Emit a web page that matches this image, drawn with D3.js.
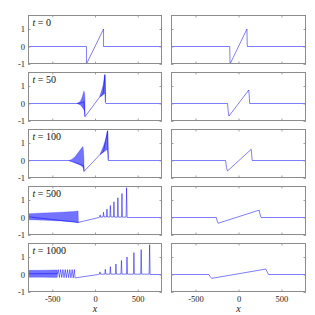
<!DOCTYPE html>
<html><head><meta charset="utf-8">
<script src="https://cdn.jsdelivr.net/npm/d3@7"></script>
<style>body{margin:0;background:#fff}svg{display:block}</style>
</head><body>
<svg id="c" width="315" height="315"></svg>
<script>
// ---------- data ----------
const times = [0, 50, 100, 500, 1000];
const xTicks = [-500, 0, 500];
const yTicks = [-1, 0, 1];
const xDomain = [-785, 785];
const yDomain = [-1, 1.8];

// left column (dispersive) : lines
const kdv0Line = [[-785,0],[-100,0],[-100,-1],[100,1],[100,0],[785,0]];
const kdv50Line = [[-785,0],[-215,0],[-170,0.02],[-130,0.1],[-118,-0.76],[60,0.4],[95,0.55],[116,1.65],[122,0.05],[128,0],[785,0]];
const kdv100Line = [[-785,0],[-310,0],[-132,-0.3],[-128,-0.62],[60,0.35],[100,0.5],[148,1.7],[152,0.6],[156,0],[785,0]];
const kdv500Line = [[-785,0.04],[-196,-0.28],[45,0.0],[55,0.02],[60,0.15],[66,0.02],[94,0.03],[100,0.3],[106,0.03],[134,0.03],[140,0.48],[146,0.03],[174,0.03],[180,0.68],[186,0.03],[216,0.03],[222,0.9],[228,0.02],[262,0.02],[268,1.13],[274,0.02],[310,0.02],[316,1.37],[322,0.02],[364,0.02],[370,1.7],[376,0],[785,0]];
const kdv1000Line = [[-785,0.04],[-440,0.05],[-430,0.28],[-417,-0.17],[-403,0.28],[-390,-0.17],[-376,0.28],[-363,-0.18],[-349,0.28],[-336,-0.18],[-322,0.28],[-309,-0.18],[-295,0.28],[-282,-0.19],[-268,0.28],[-255,-0.19],[-241,0.28],[-234,-0.19],[-228,-0.19],[40,0.0],[52,0.02],[58,0.15],[64,0.02],[115,0.02],[121,0.3],[127,0.02],[174,0.02],[180,0.45],[186,0.02],[239,0.02],[245,0.6],[251,0.02],[304,0.02],[310,0.8],[316,0.02],[369,0.02],[375,1.0],[381,0.02],[450,0.02],[456,1.25],[462,0.02],[535,0.02],[541,1.42],[547,0.02],[634,0.02],[640,1.7],[646,0],[785,0]];

// left column : dense oscillation bands [x, low, high]
const kdv50Band = [[-215,0,0],[-190,-0.04,0.06],[-170,-0.1,0.15],[-155,-0.18,0.3],[-140,-0.28,0.55],[-130,-0.35,0.72],[-122,-0.45,0.6],[-117,-0.72,0.2]];
const kdv50Spike = [[55,0.38,0.42],[75,0.42,0.7],[95,0.5,1.05],[108,0.55,1.45],[116,0.6,1.65],[121,0.4,1.3],[124,0.1,0.5]];
const kdv100Band = [[-310,0,0],[-280,-0.03,0.05],[-250,-0.08,0.15],[-220,-0.15,0.3],[-190,-0.22,0.5],[-160,-0.3,0.7],[-142,-0.38,0.8],[-134,-0.5,0.55],[-129,-0.62,0.05]];
const kdv100Spike = [[60,0.33,0.37],[80,0.42,0.6],[100,0.48,0.85],[120,0.55,1.15],[135,0.6,1.45],[146,0.62,1.7],[151,0.4,1.5],[155,0.05,0.4]];
const kdv500Band = [[-785,-0.13,0.22],[-600,-0.15,0.26],[-400,-0.2,0.3],[-250,-0.25,0.35],[-198,-0.3,0.37],[-194,-0.29,-0.27]];
const kdv1000Band = [[-785,-0.15,0.24],[-600,-0.16,0.25],[-445,-0.17,0.26],[-440,-0.1,0.1]];

// right column (dissipative) : lines
const burg0Line = [[-785,0],[-102,0],[-98,-1],[98,1],[102,0],[785,0]];
const burg50Line = [[-785,0],[-127,0],[-121,-0.4],[-111,-0.72],[119,0.77],[124,0.5],[130,0],[785,0]];
const burg100Line = [[-785,0],[-150,0],[-140,-0.4],[-128,-0.6],[148,0.64],[153,0.35],[159,0],[785,0]];
const burg500Line = [[-785,0],[-258,0],[-248,-0.2],[-238,-0.33],[240,0.42],[250,0.2],[262,0],[785,0]];
const burg1000Line = [[-785,0],[-345,0],[-330,-0.12],[-312,-0.22],[318,0.31],[333,0.15],[350,0],[785,0]];

const leftLines = [kdv0Line, kdv50Line, kdv100Line, kdv500Line, kdv1000Line];
const leftBands = [[], [kdv50Band, kdv50Spike], [kdv100Band, kdv100Spike], [kdv500Band], [kdv1000Band]];
const rightLines = [burg0Line, burg50Line, burg100Line, burg500Line, burg1000Line];

// ---------- layout ----------
const cols = [[28, 162], [171, 306]];
const top0 = 15, rowStep = 57, ph = 49;
const serif = '"Liberation Serif","DejaVu Serif",serif';
const frameCol = '#8c8c8c';
const lineCol = '#0000ff';

const svg = d3.select('#c');
const defs = svg.append('defs');

times.forEach((t, r) => {
  cols.forEach(([x0, x1], c) => {
    const pw = x1 - x0;
    const ty = top0 + r * rowStep;
    const g = svg.append('g').attr('transform', `translate(${x0},${ty})`);
    const x = d3.scaleLinear().domain(xDomain).range([0, pw]);
    const y = d3.scaleLinear().domain(yDomain).range([ph, 0]);
    const id = `clip${r}_${c}`;
    defs.append('clipPath').attr('id', id).append('rect').attr('width', pw).attr('height', ph);
    const plot = g.append('g').attr('clip-path', `url(#${id})`);

    if (c === 0) {
      const area = d3.area().x(d => x(d[0])).y0(d => y(d[1])).y1(d => y(d[2]));
      leftBands[r].forEach(b => {
        plot.append('path').attr('d', area(b)).attr('fill', lineCol).attr('fill-opacity', 0.55)
          .attr('stroke', lineCol).attr('stroke-width', 0.4).attr('stroke-opacity', 0.5);
      });
    }
    const data = c === 0 ? leftLines[r] : rightLines[r];
    const line = d3.line().x(d => x(d[0])).y(d => y(d[1]));
    plot.append('path').attr('d', line(data)).attr('fill', 'none')
      .attr('stroke', lineCol).attr('stroke-width', 0.6).attr('stroke-opacity', 0.85).attr('stroke-linejoin', 'round');

    // axes
    const styleAxis = sel => {
      sel.select('.domain').remove();
      sel.selectAll('.tick line').attr('stroke', frameCol).attr('stroke-width', 0.8);
      sel.selectAll('.tick text').attr('fill', '#222').style('font-family', serif).style('font-size', '8.5px');
    };
    g.append('g').call(d3.axisLeft(y).tickValues(yTicks).tickSize(-2.5).tickPadding(3)
      .tickFormat(c === 0 ? (d => d < 0 ? '-' + Math.abs(d) : String(d)) : () => '')).call(styleAxis);
    g.append('g').attr('transform', `translate(${pw},0)`).call(d3.axisRight(y).tickValues(yTicks).tickSize(-2.5).tickFormat(() => '')).call(styleAxis);
    g.append('g').call(d3.axisTop(x).tickValues(xTicks).tickSize(-2.5).tickFormat(() => '')).call(styleAxis);
    g.append('g').attr('transform', `translate(0,${ph})`).call(d3.axisBottom(x).tickValues(xTicks).tickSize(-2.5).tickPadding(4)
      .tickFormat(r === times.length - 1 ? (d => d < 0 ? '-' + Math.abs(d) : String(d)) : () => '')).call(styleAxis);

    g.append('rect').attr('x', 0.5).attr('y', 0.5).attr('width', pw - 1).attr('height', ph - 1)
      .attr('fill', 'none').attr('stroke', frameCol).attr('stroke-width', 1);

    if (c === 0) {
      const tx = g.append('text').attr('x', 4.5).attr('y', 11).style('font-family', serif).style('font-size', '10px').attr('fill', '#111');
      tx.append('tspan').style('font-style', 'italic').text('t');
      tx.append('tspan').text(' = ' + t);
    }
    if (r === times.length - 1) {
      g.append('text').attr('x', pw / 2).attr('y', ph + 19.5).attr('text-anchor', 'middle')
        .style('font-family', serif).style('font-size', '10px').style('font-style', 'italic').attr('fill', '#222').text('x');
    }
  });
});
</script>
</body></html>
